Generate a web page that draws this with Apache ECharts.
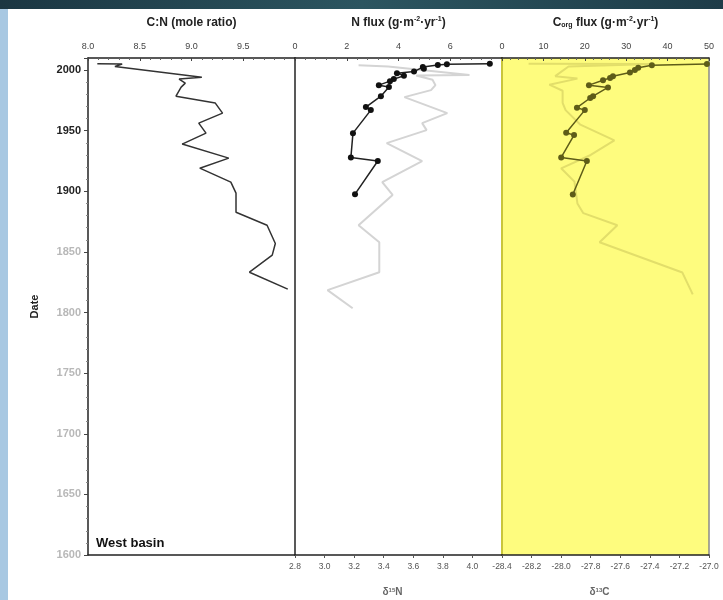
<!DOCTYPE html>
<html>
<head>
<meta charset="utf-8">
<script src="https://cdn.jsdelivr.net/npm/echarts@6/dist/echarts.min.js"></script>
<style>
  html, body { margin: 0; padding: 0; background: #fff; }
  #chart { width: 723px; height: 600px; }
</style>
</head>
<body>
<div id="chart"></div>
<script>
// C:N ratio (panel 1)
var cnYears  = [2005.2, 2005, 2003, 1994.2, 1992.6, 1989.3, 1986, 1978.5, 1972.8, 1964.5, 1956.3, 1948, 1939, 1927.4, 1919.1, 1907.6, 1898.5, 1882.8, 1872, 1857, 1847.4, 1833.3, 1819.3];
var cnValues = [8.09, 8.33, 8.26, 9.10, 8.88, 8.94, 8.90, 8.85, 9.23, 9.30, 9.07, 9.14, 8.91, 9.36, 9.08, 9.38, 9.43, 9.43, 9.73, 9.81, 9.78, 9.56, 9.93];

// N flux (panel 2, top axis)
var nfluxYears  = [2005.3, 2004.8, 2004.2, 2002.5, 2001.2, 1998.8, 1997.5, 1995.3, 1992.6, 1990.9, 1987.6, 1986, 1978.5, 1969.5, 1967, 1948, 1928, 1925, 1897.7];
var nfluxValues = [7.53, 5.87, 5.52, 4.94, 4.98, 4.60, 3.94, 4.21, 3.82, 3.67, 3.24, 3.63, 3.32, 2.74, 2.93, 2.24, 2.16, 3.20, 2.32];

// d15N (panel 2, bottom axis)
var d15nYears  = [2004, 2003, 1996, 1995.5, 1992, 1987.6, 1983.5, 1977.7, 1964.5, 1956.3, 1950.5, 1939.8, 1925, 1907.6, 1897, 1872, 1858, 1833.3, 1818.5, 1803.6];
var d15nValues = [3.23, 3.43, 3.98, 3.62, 3.73, 3.75, 3.72, 3.54, 3.83, 3.66, 3.69, 3.42, 3.66, 3.39, 3.46, 3.23, 3.37, 3.37, 3.02, 3.19];

// Corg flux (panel 3, top axis)
var cfluxYears  = [2005, 2004, 2002, 2000, 1998, 1995, 1993.6, 1991.7, 1987.6, 1985.7, 1978.5, 1977, 1969, 1967, 1948.3, 1946.4, 1928, 1925, 1897.4];
var cfluxValues = [49.5, 36.2, 32.9, 32.1, 30.9, 26.8, 26.1, 24.4, 21.0, 25.6, 22.0, 21.3, 18.1, 20.0, 15.5, 17.4, 14.3, 20.5, 17.1];

// d13C (panel 3, bottom axis)
var d13cYears  = [2005.2, 2005, 2003, 1995, 1993, 1988, 1983, 1973, 1967, 1955, 1942, 1930, 1919, 1908, 1890, 1882, 1872, 1858, 1833, 1815];
var d13cValues = [-28.22, -27.38, -27.95, -28.04, -27.89, -28.08, -27.99, -27.99, -27.97, -27.87, -27.64, -27.80, -28.00, -27.91, -27.89, -27.85, -27.62, -27.74, -27.18, -27.11];

function pairs(xs, ys) {
    return xs.map(function (v, i) { return [v, ys[i]]; });
}

var myChart = echarts.init(document.getElementById('chart'));

var FONT = 'Liberation Sans, Arial, sans-serif';
var topLabel = { fontSize: 9, color: '#444', margin: 7, fontFamily: FONT };
var nameStyle = { fontSize: 12, fontWeight: 'bold', color: '#222', fontFamily: FONT,
    rich: {
        sup: { fontSize: 7, verticalAlign: 'top', fontWeight: 'bold', color: '#222', fontFamily: FONT, padding: [0, 0, 6, 0] },
        sub: { fontSize: 7, verticalAlign: 'bottom', fontWeight: 'bold', color: '#222', fontFamily: FONT, padding: [6, 0, 0, 0] }
    }
};
var bottomNameStyle = { fontSize: 10, fontWeight: 'bold', color: '#666', fontFamily: FONT,
    padding: [0, 12, 0, 0],
    rich: {
        sup: { fontSize: 6, verticalAlign: 'top', fontWeight: 'bold', color: '#666', fontFamily: FONT, padding: [0, 0, 5, 0] }
    }
};
var axisBlack = { show: true, lineStyle: { color: '#222', width: 1.5 } };

function topAxis(grid, min, max, interval, name, hideMax) {
    return {
        type: 'value', gridIndex: grid, position: 'top',
        min: min, max: max, interval: interval,
        name: name, nameLocation: 'middle', nameGap: 29, nameTextStyle: nameStyle,
        axisLine: axisBlack,
        axisTick: { show: true, length: 3, inside: true, lineStyle: { color: '#444' } },
        minorTick: { show: true, splitNumber: 5, length: 2, lineStyle: { color: '#666' } },
        axisLabel: Object.assign({}, topLabel, {
            formatter: function (v) {
                if (hideMax && v === max) return '';
                return interval < 1 ? v.toFixed(1) : String(v);
            }
        }),
        splitLine: { show: false }
    };
}

function bottomAxis(grid, min, max, name, hideMax) {
    return {
        type: 'value', gridIndex: grid, position: 'bottom',
        min: min, max: max, interval: 0.2,
        name: name, nameLocation: 'middle', nameGap: 32,
        nameTextStyle: bottomNameStyle,
        axisLine: axisBlack,
        axisTick: { show: true, length: 3, lineStyle: { color: '#555' } },
        axisLabel: { fontSize: 8.5, color: '#555', margin: 7, fontFamily: FONT,
            formatter: function (v) {
                if (hideMax && Math.abs(v - max) < 1e-6) return '';
                return v.toFixed(1);
            }
        },
        splitLine: { show: false }
    };
}

function yAxis(grid, opts) {
    return Object.assign({
        type: 'value', gridIndex: grid, min: 1600, max: 2010, interval: 50,
        axisLine: axisBlack,
        axisTick: { show: false },
        axisLabel: { show: false },
        splitLine: { show: false }
    }, opts || {});
}

option = {
    backgroundColor: '#fff',
    animation: false,
    grid: [
        { left: 88, top: 58, width: 207, height: 497, outerBoundsMode: 'none' },
        { left: 295, top: 58, width: 207, height: 497, outerBoundsMode: 'none' },
        { left: 502, top: 58, width: 207, height: 497, outerBoundsMode: 'none',
          show: true, backgroundColor: '#fefc7e', borderWidth: 0 }
    ],
    xAxis: [
        topAxis(0, 8, 10, 0.5, 'C:N (mole ratio)', true),
        topAxis(1, 0, 8, 2, 'N flux (g·m{sup|-2}·yr{sup|-1})', true),
        topAxis(2, 0, 50, 10, 'C{sub|org} flux (g·m{sup|-2}·yr{sup|-1})', false),
        { type: 'value', gridIndex: 0, position: 'bottom', min: 0, max: 1,
          axisLine: axisBlack, axisTick: { show: false }, axisLabel: { show: false }, splitLine: { show: false } },
        bottomAxis(1, 2.8, 4.2, 'δ{sup|15}N', true),
        bottomAxis(2, -28.4, -27.0, 'δ{sup|13}C', false)
    ],
    yAxis: [
        yAxis(0, {
            name: 'Date', nameLocation: 'middle', nameGap: 48, nameRotate: 90,
            nameTextStyle: { fontSize: 11, fontWeight: 'bold', color: '#222', fontFamily: FONT },
            axisTick: { show: true, length: 4, lineStyle: { color: '#444' } },
            minorTick: { show: true, splitNumber: 5, length: 2, lineStyle: { color: '#888' } },
            axisLabel: {
                margin: 7, fontFamily: FONT,
                formatter: function (v) {
                    if (v > 2000) return '';
                    return (v >= 1900 ? '{a|' : '{b|') + v + '}';
                },
                rich: {
                    a: { fontSize: 11, fontWeight: 'bold', color: '#222', fontFamily: FONT },
                    b: { fontSize: 11, fontWeight: 'bold', color: '#b8b8b8', fontFamily: FONT }
                }
            }
        }),
        yAxis(1),
        yAxis(2, { axisLine: { show: true, lineStyle: { color: '#c9c53a', width: 2 } } }),
        yAxis(2, { position: 'right', axisLine: { show: true, lineStyle: { color: '#8a8a8a', width: 1.5 } } })
    ],
    graphic: [
        { type: 'rect', left: 0, top: 0, shape: { width: 723, height: 9 },
          style: { fill: new echarts.graphic.LinearGradient(0, 0, 1, 0, [
              { offset: 0, color: '#1b3642' }, { offset: 0.5, color: '#2c5560' }, { offset: 1, color: '#1e3c48' }]) } },
        { type: 'rect', left: 0, top: 9, shape: { width: 8, height: 591 }, style: { fill: '#a8c8e2' } },
        { type: 'text', left: 96, top: 537, style: { text: 'West basin', font: 'bold 13px ' + FONT, fill: '#111' } }
    ],
    series: [
        {
            name: 'C:N', type: 'line', xAxisIndex: 0, yAxisIndex: 0,
            data: pairs(cnValues, cnYears),
            symbol: 'none',
            lineStyle: { color: '#333', width: 1.5 }
        },
        {
            name: 'd15N', type: 'line', xAxisIndex: 4, yAxisIndex: 1,
            data: pairs(d15nValues, d15nYears),
            symbol: 'none',
            lineStyle: { color: '#d4d4d4', width: 2 }
        },
        {
            name: 'N flux', type: 'line', xAxisIndex: 1, yAxisIndex: 1,
            data: pairs(nfluxValues, nfluxYears),
            symbol: 'circle', symbolSize: 6,
            itemStyle: { color: '#111' },
            lineStyle: { color: '#222', width: 1.5 }
        },
        {
            name: 'd13C', type: 'line', xAxisIndex: 5, yAxisIndex: 2,
            data: pairs(d13cValues, d13cYears),
            symbol: 'none',
            lineStyle: { color: '#e2de6a', width: 2 }
        },
        {
            name: 'Corg flux', type: 'line', xAxisIndex: 2, yAxisIndex: 2,
            data: pairs(cfluxValues, cfluxYears),
            symbol: 'circle', symbolSize: 6,
            itemStyle: { color: '#5e5c18' },
            lineStyle: { color: '#5e5c18', width: 1.5 }
        }
    ]
};
myChart.setOption(option);
</script>
</body>
</html>
